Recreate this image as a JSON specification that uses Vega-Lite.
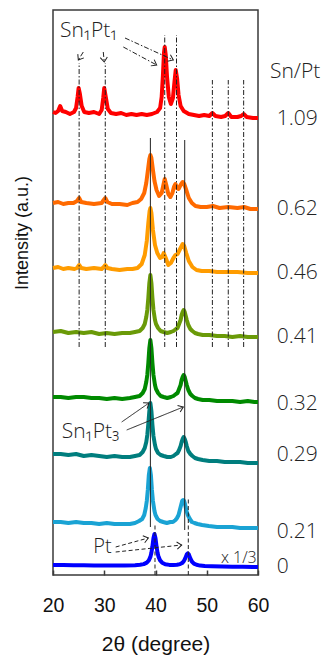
{
"$schema":"https://vega.github.io/schema/vega-lite/v6.json",
"width":205,"height":565,
"autosize":{"type":"none"},
"padding":{"left":53,"top":10,"right":67,"bottom":81},
"background":"white",
"config":{"view":{"stroke":"#3a3a3a","strokeWidth":1.5},"axis":{"labelFont":"Liberation Sans","titleFont":"Liberation Sans","grid":false,"labelColor":"#111","titleColor":"#111","titleFontWeight":"normal"}},
"datasets":{
"xrd":[
{"r":"1.09","t":20,"i":463},{"r":"1.09","t":20.5,"i":462},{"r":"1.09","t":21.0,"i":464},{"r":"1.09","t":21.4,"i":469},{"r":"1.09","t":21.8,"i":464},{"r":"1.09","t":22.5,"i":463},{"r":"1.09","t":23.3,"i":461},{"r":"1.09","t":24.1,"i":463},{"r":"1.09","t":24.5,"i":467},{"r":"1.09","t":24.8,"i":478},{"r":"1.09","t":25.0,"i":487},{"r":"1.09","t":25.25,"i":481},{"r":"1.09","t":25.6,"i":469},{"r":"1.09","t":26.1,"i":463},{"r":"1.09","t":27,"i":462},{"r":"1.09","t":28,"i":463},{"r":"1.09","t":29,"i":461},{"r":"1.09","t":29.5,"i":465},{"r":"1.09","t":29.8,"i":477},{"r":"1.09","t":30.0,"i":487},{"r":"1.09","t":30.3,"i":478},{"r":"1.09","t":30.7,"i":466},{"r":"1.09","t":31.3,"i":462},{"r":"1.09","t":32.3,"i":461},{"r":"1.09","t":33.3,"i":462},{"r":"1.09","t":34.3,"i":460},{"r":"1.09","t":35.3,"i":461},{"r":"1.09","t":36.3,"i":460},{"r":"1.09","t":37.3,"i":461},{"r":"1.09","t":38.3,"i":460},{"r":"1.09","t":39.3,"i":461},{"r":"1.09","t":40.3,"i":463},{"r":"1.09","t":40.9,"i":467},{"r":"1.09","t":41.2,"i":478},{"r":"1.09","t":41.45,"i":500},{"r":"1.09","t":41.65,"i":522},{"r":"1.09","t":41.8,"i":528},{"r":"1.09","t":42.0,"i":520},{"r":"1.09","t":42.25,"i":498},{"r":"1.09","t":42.6,"i":478},{"r":"1.09","t":43.0,"i":471},{"r":"1.09","t":43.4,"i":477},{"r":"1.09","t":43.7,"i":493},{"r":"1.09","t":43.95,"i":505},{"r":"1.09","t":44.2,"i":497},{"r":"1.09","t":44.5,"i":480},{"r":"1.09","t":44.9,"i":469},{"r":"1.09","t":45.5,"i":464},{"r":"1.09","t":46.5,"i":461},{"r":"1.09","t":47.5,"i":460},{"r":"1.09","t":48.5,"i":459},{"r":"1.09","t":49.5,"i":460},{"r":"1.09","t":50.5,"i":459},{"r":"1.09","t":51.1,"i":462},{"r":"1.09","t":51.7,"i":459},{"r":"1.09","t":52.8,"i":458},{"r":"1.09","t":53.6,"i":459},{"r":"1.09","t":54.2,"i":462},{"r":"1.09","t":54.8,"i":458},{"r":"1.09","t":56,"i":458},{"r":"1.09","t":56.7,"i":459},{"r":"1.09","t":57.2,"i":461},{"r":"1.09","t":57.8,"i":458},{"r":"1.09","t":59,"i":457},{"r":"1.09","t":60,"i":457},
{"r":"0.62","t":20,"i":372},{"r":"0.62","t":21,"i":373},{"r":"0.62","t":22,"i":371},{"r":"0.62","t":23,"i":372},{"r":"0.62","t":24,"i":372},{"r":"0.62","t":24.7,"i":374},{"r":"0.62","t":25.1,"i":377},{"r":"0.62","t":25.5,"i":373},{"r":"0.62","t":26.5,"i":372},{"r":"0.62","t":28,"i":371},{"r":"0.62","t":29.5,"i":372},{"r":"0.62","t":29.9,"i":375},{"r":"0.62","t":30.2,"i":377},{"r":"0.62","t":30.6,"i":373},{"r":"0.62","t":31.5,"i":371},{"r":"0.62","t":33,"i":371},{"r":"0.62","t":34.5,"i":370},{"r":"0.62","t":35.5,"i":372},{"r":"0.62","t":36.5,"i":373},{"r":"0.62","t":37.2,"i":376},{"r":"0.62","t":37.8,"i":382},{"r":"0.62","t":38.2,"i":392},{"r":"0.62","t":38.5,"i":404},{"r":"0.62","t":38.8,"i":416},{"r":"0.62","t":39.0,"i":420},{"r":"0.62","t":39.2,"i":417},{"r":"0.62","t":39.5,"i":405},{"r":"0.62","t":39.8,"i":394},{"r":"0.62","t":40.2,"i":385},{"r":"0.62","t":40.7,"i":379},{"r":"0.62","t":41.2,"i":382},{"r":"0.62","t":41.5,"i":389},{"r":"0.62","t":41.8,"i":396},{"r":"0.62","t":42.1,"i":390},{"r":"0.62","t":42.5,"i":381},{"r":"0.62","t":42.9,"i":378},{"r":"0.62","t":43.3,"i":382},{"r":"0.62","t":43.6,"i":388},{"r":"0.62","t":43.9,"i":391},{"r":"0.62","t":44.2,"i":387},{"r":"0.62","t":44.5,"i":386},{"r":"0.62","t":44.9,"i":390},{"r":"0.62","t":45.3,"i":393},{"r":"0.62","t":45.6,"i":391},{"r":"0.62","t":46.0,"i":385},{"r":"0.62","t":46.5,"i":377},{"r":"0.62","t":47.1,"i":372},{"r":"0.62","t":47.8,"i":369},{"r":"0.62","t":48.8,"i":368},{"r":"0.62","t":50,"i":368},{"r":"0.62","t":51.2,"i":369},{"r":"0.62","t":52.5,"i":367},{"r":"0.62","t":54.2,"i":368},{"r":"0.62","t":56,"i":367},{"r":"0.62","t":57.3,"i":368},{"r":"0.62","t":58.5,"i":366},{"r":"0.62","t":60,"i":366},
{"r":"0.46","t":20,"i":307},{"r":"0.46","t":21,"i":308},{"r":"0.46","t":22,"i":306},{"r":"0.46","t":23,"i":307},{"r":"0.46","t":24.2,"i":306},{"r":"0.46","t":24.7,"i":307},{"r":"0.46","t":25.1,"i":310},{"r":"0.46","t":25.5,"i":307},{"r":"0.46","t":26.5,"i":306},{"r":"0.46","t":28,"i":307},{"r":"0.46","t":29.5,"i":306},{"r":"0.46","t":29.9,"i":308},{"r":"0.46","t":30.2,"i":310},{"r":"0.46","t":30.6,"i":307},{"r":"0.46","t":31.5,"i":306},{"r":"0.46","t":33,"i":305},{"r":"0.46","t":34.5,"i":306},{"r":"0.46","t":35.5,"i":306},{"r":"0.46","t":36.5,"i":307},{"r":"0.46","t":37.3,"i":311},{"r":"0.46","t":37.9,"i":320},{"r":"0.46","t":38.3,"i":334},{"r":"0.46","t":38.6,"i":352},{"r":"0.46","t":38.85,"i":364},{"r":"0.46","t":39.0,"i":367},{"r":"0.46","t":39.2,"i":362},{"r":"0.46","t":39.5,"i":345},{"r":"0.46","t":39.9,"i":330},{"r":"0.46","t":40.35,"i":322},{"r":"0.46","t":40.9,"i":317},{"r":"0.46","t":41.3,"i":318},{"r":"0.46","t":41.6,"i":322},{"r":"0.46","t":42.0,"i":317},{"r":"0.46","t":42.5,"i":310},{"r":"0.46","t":43.0,"i":312},{"r":"0.46","t":43.5,"i":317},{"r":"0.46","t":43.9,"i":320},{"r":"0.46","t":44.3,"i":321},{"r":"0.46","t":44.8,"i":326},{"r":"0.46","t":45.3,"i":331},{"r":"0.46","t":45.6,"i":329},{"r":"0.46","t":46.0,"i":322},{"r":"0.46","t":46.5,"i":314},{"r":"0.46","t":47.2,"i":308},{"r":"0.46","t":48,"i":305},{"r":"0.46","t":49,"i":304},{"r":"0.46","t":50.5,"i":304},{"r":"0.46","t":52,"i":303},{"r":"0.46","t":54,"i":303},{"r":"0.46","t":56,"i":303},{"r":"0.46","t":58,"i":302},{"r":"0.46","t":60,"i":302},
{"r":"0.41","t":20,"i":243},{"r":"0.41","t":21.5,"i":244},{"r":"0.41","t":23,"i":242},{"r":"0.41","t":24.5,"i":243},{"r":"0.41","t":26,"i":242},{"r":"0.41","t":27.5,"i":243},{"r":"0.41","t":29,"i":241},{"r":"0.41","t":30.5,"i":242},{"r":"0.41","t":32,"i":241},{"r":"0.41","t":33.5,"i":242},{"r":"0.41","t":35,"i":242},{"r":"0.41","t":36,"i":243},{"r":"0.41","t":36.9,"i":244},{"r":"0.41","t":37.5,"i":247},{"r":"0.41","t":37.9,"i":251},{"r":"0.41","t":38.2,"i":258},{"r":"0.41","t":38.4,"i":265},{"r":"0.41","t":38.6,"i":277},{"r":"0.41","t":38.8,"i":292},{"r":"0.41","t":39.0,"i":300},{"r":"0.41","t":39.2,"i":292},{"r":"0.41","t":39.4,"i":277},{"r":"0.41","t":39.6,"i":265},{"r":"0.41","t":39.9,"i":255},{"r":"0.41","t":40.1,"i":251},{"r":"0.41","t":40.5,"i":247},{"r":"0.41","t":41.0,"i":244},{"r":"0.41","t":41.6,"i":243},{"r":"0.41","t":42.3,"i":242},{"r":"0.41","t":43.0,"i":243},{"r":"0.41","t":43.5,"i":244},{"r":"0.41","t":44.0,"i":246},{"r":"0.41","t":44.3,"i":247},{"r":"0.41","t":44.6,"i":251},{"r":"0.41","t":44.9,"i":255},{"r":"0.41","t":45.1,"i":260},{"r":"0.41","t":45.3,"i":263},{"r":"0.41","t":45.5,"i":265},{"r":"0.41","t":45.7,"i":263},{"r":"0.41","t":45.9,"i":259},{"r":"0.41","t":46.1,"i":255},{"r":"0.41","t":46.4,"i":250},{"r":"0.41","t":46.8,"i":246},{"r":"0.41","t":47.2,"i":244},{"r":"0.41","t":47.7,"i":242},{"r":"0.41","t":48.3,"i":241},{"r":"0.41","t":49.2,"i":240},{"r":"0.41","t":50.5,"i":240},{"r":"0.41","t":52,"i":239},{"r":"0.41","t":53.5,"i":239},{"r":"0.41","t":55,"i":238},{"r":"0.41","t":56.5,"i":239},{"r":"0.41","t":58,"i":238},{"r":"0.41","t":59.3,"i":238},{"r":"0.41","t":60,"i":238},
{"r":"0.32","t":20,"i":178},{"r":"0.32","t":21.5,"i":178},{"r":"0.32","t":23,"i":177},{"r":"0.32","t":24.5,"i":178},{"r":"0.32","t":26,"i":178},{"r":"0.32","t":27.5,"i":177},{"r":"0.32","t":29,"i":177},{"r":"0.32","t":30.5,"i":176},{"r":"0.32","t":32,"i":177},{"r":"0.32","t":33.5,"i":176},{"r":"0.32","t":35,"i":177},{"r":"0.32","t":36,"i":178},{"r":"0.32","t":36.9,"i":179},{"r":"0.32","t":37.5,"i":182},{"r":"0.32","t":37.9,"i":186},{"r":"0.32","t":38.2,"i":193},{"r":"0.32","t":38.4,"i":200},{"r":"0.32","t":38.6,"i":212},{"r":"0.32","t":38.8,"i":227},{"r":"0.32","t":39.0,"i":235},{"r":"0.32","t":39.2,"i":227},{"r":"0.32","t":39.4,"i":212},{"r":"0.32","t":39.6,"i":200},{"r":"0.32","t":39.9,"i":190},{"r":"0.32","t":40.1,"i":186},{"r":"0.32","t":40.5,"i":182},{"r":"0.32","t":41.0,"i":179},{"r":"0.32","t":41.6,"i":178},{"r":"0.32","t":42.3,"i":177},{"r":"0.32","t":43.0,"i":178},{"r":"0.32","t":43.5,"i":179},{"r":"0.32","t":44.0,"i":181},{"r":"0.32","t":44.3,"i":182},{"r":"0.32","t":44.6,"i":186},{"r":"0.32","t":44.9,"i":190},{"r":"0.32","t":45.1,"i":195},{"r":"0.32","t":45.3,"i":198},{"r":"0.32","t":45.5,"i":200},{"r":"0.32","t":45.7,"i":198},{"r":"0.32","t":45.9,"i":194},{"r":"0.32","t":46.1,"i":190},{"r":"0.32","t":46.4,"i":185},{"r":"0.32","t":46.8,"i":181},{"r":"0.32","t":47.2,"i":179},{"r":"0.32","t":47.7,"i":177},{"r":"0.32","t":48.3,"i":176},{"r":"0.32","t":49.2,"i":175},{"r":"0.32","t":50.5,"i":175},{"r":"0.32","t":52,"i":174},{"r":"0.32","t":53.5,"i":174},{"r":"0.32","t":55,"i":174},{"r":"0.32","t":56.5,"i":173},{"r":"0.32","t":58,"i":174},{"r":"0.32","t":59.3,"i":173},{"r":"0.32","t":60,"i":173},
{"r":"0.29","t":20,"i":121},{"r":"0.29","t":21.5,"i":121},{"r":"0.29","t":23,"i":120},{"r":"0.29","t":24.5,"i":121},{"r":"0.29","t":26,"i":119},{"r":"0.29","t":27.5,"i":120},{"r":"0.29","t":29,"i":119},{"r":"0.29","t":30.5,"i":118},{"r":"0.29","t":32,"i":119},{"r":"0.29","t":33.5,"i":118},{"r":"0.29","t":35,"i":118},{"r":"0.29","t":36,"i":119},{"r":"0.29","t":36.9,"i":120},{"r":"0.29","t":37.5,"i":123},{"r":"0.29","t":37.9,"i":127},{"r":"0.29","t":38.2,"i":133},{"r":"0.29","t":38.4,"i":140},{"r":"0.29","t":38.6,"i":151},{"r":"0.29","t":38.8,"i":164},{"r":"0.29","t":39.0,"i":172},{"r":"0.29","t":39.2,"i":164},{"r":"0.29","t":39.4,"i":150},{"r":"0.29","t":39.6,"i":139},{"r":"0.29","t":39.9,"i":130},{"r":"0.29","t":40.1,"i":126},{"r":"0.29","t":40.5,"i":122},{"r":"0.29","t":41.0,"i":120},{"r":"0.29","t":41.6,"i":119},{"r":"0.29","t":42.3,"i":118},{"r":"0.29","t":43.0,"i":118},{"r":"0.29","t":43.5,"i":119},{"r":"0.29","t":44.0,"i":121},{"r":"0.29","t":44.3,"i":122},{"r":"0.29","t":44.6,"i":125},{"r":"0.29","t":44.9,"i":129},{"r":"0.29","t":45.1,"i":133},{"r":"0.29","t":45.3,"i":136},{"r":"0.29","t":45.5,"i":138},{"r":"0.29","t":45.7,"i":136},{"r":"0.29","t":45.9,"i":133},{"r":"0.29","t":46.1,"i":129},{"r":"0.29","t":46.4,"i":124},{"r":"0.29","t":46.8,"i":121},{"r":"0.29","t":47.2,"i":119},{"r":"0.29","t":47.7,"i":117},{"r":"0.29","t":48.3,"i":116},{"r":"0.29","t":49.2,"i":115},{"r":"0.29","t":50.5,"i":114},{"r":"0.29","t":52,"i":114},{"r":"0.29","t":53.5,"i":113},{"r":"0.29","t":55,"i":113},{"r":"0.29","t":56.5,"i":113},{"r":"0.29","t":58,"i":112},{"r":"0.29","t":59.3,"i":112},{"r":"0.29","t":60,"i":112},
{"r":"0.21","t":20,"i":53},{"r":"0.21","t":21.5,"i":53},{"r":"0.21","t":23,"i":52},{"r":"0.21","t":24.5,"i":53},{"r":"0.21","t":26,"i":52},{"r":"0.21","t":27.5,"i":52},{"r":"0.21","t":29,"i":51},{"r":"0.21","t":30.5,"i":52},{"r":"0.21","t":32,"i":51},{"r":"0.21","t":33.5,"i":51},{"r":"0.21","t":35,"i":51},{"r":"0.21","t":36,"i":52},{"r":"0.21","t":36.8,"i":54},{"r":"0.21","t":37.4,"i":56},{"r":"0.21","t":37.8,"i":60},{"r":"0.21","t":38.1,"i":67},{"r":"0.21","t":38.3,"i":74},{"r":"0.21","t":38.5,"i":85},{"r":"0.21","t":38.7,"i":100},{"r":"0.21","t":38.9,"i":107},{"r":"0.21","t":39.1,"i":100},{"r":"0.21","t":39.3,"i":85},{"r":"0.21","t":39.5,"i":74},{"r":"0.21","t":39.8,"i":64},{"r":"0.21","t":40.0,"i":60},{"r":"0.21","t":40.4,"i":56},{"r":"0.21","t":40.9,"i":54},{"r":"0.21","t":41.5,"i":53},{"r":"0.21","t":42.2,"i":52},{"r":"0.21","t":42.9,"i":53},{"r":"0.21","t":43.4,"i":53},{"r":"0.21","t":43.9,"i":55},{"r":"0.21","t":44.2,"i":57},{"r":"0.21","t":44.5,"i":60},{"r":"0.21","t":44.8,"i":66},{"r":"0.21","t":45.0,"i":70},{"r":"0.21","t":45.2,"i":74},{"r":"0.21","t":45.4,"i":75},{"r":"0.21","t":45.6,"i":74},{"r":"0.21","t":45.8,"i":70},{"r":"0.21","t":46.0,"i":65},{"r":"0.21","t":46.3,"i":60},{"r":"0.21","t":46.7,"i":56},{"r":"0.21","t":47.1,"i":53},{"r":"0.21","t":47.6,"i":52},{"r":"0.21","t":48.2,"i":51},{"r":"0.21","t":49.1,"i":50},{"r":"0.21","t":50.4,"i":49},{"r":"0.21","t":52,"i":48},{"r":"0.21","t":53.5,"i":48},{"r":"0.21","t":55,"i":48},{"r":"0.21","t":56.5,"i":47},{"r":"0.21","t":58,"i":47},{"r":"0.21","t":59.3,"i":47},{"r":"0.21","t":60,"i":47},
{"r":"0","t":20,"i":10},{"r":"0","t":22,"i":9.9},{"r":"0","t":24,"i":9.8},{"r":"0","t":26,"i":9.7},{"r":"0","t":28,"i":9.6},{"r":"0","t":30,"i":9.5},{"r":"0","t":32,"i":9.4},{"r":"0","t":34,"i":9.4},{"r":"0","t":36,"i":9.8},{"r":"0","t":37,"i":10.2},{"r":"0","t":37.7,"i":10.9},{"r":"0","t":38.3,"i":12.4},{"r":"0","t":38.7,"i":14.6},{"r":"0","t":39.0,"i":18.1},{"r":"0","t":39.2,"i":22.2},{"r":"0","t":39.4,"i":28.6},{"r":"0","t":39.6,"i":36.7},{"r":"0","t":39.8,"i":41},{"r":"0","t":40.0,"i":36.7},{"r":"0","t":40.2,"i":28.6},{"r":"0","t":40.4,"i":22.2},{"r":"0","t":40.6,"i":18.1},{"r":"0","t":40.9,"i":14.6},{"r":"0","t":41.3,"i":12.3},{"r":"0","t":41.9,"i":10.8},{"r":"0","t":42.7,"i":10.1},{"r":"0","t":43.5,"i":10},{"r":"0","t":44.2,"i":10.2},{"r":"0","t":44.8,"i":10.9},{"r":"0","t":45.2,"i":12},{"r":"0","t":45.5,"i":13.6},{"r":"0","t":45.8,"i":16.6},{"r":"0","t":46.1,"i":20.6},{"r":"0","t":46.3,"i":21.7},{"r":"0","t":46.5,"i":20.6},{"r":"0","t":46.8,"i":16.5},{"r":"0","t":47.1,"i":13.5},{"r":"0","t":47.5,"i":11.4},{"r":"0","t":48,"i":10.2},{"r":"0","t":48.7,"i":9.4},{"r":"0","t":49.6,"i":8.9},{"r":"0","t":51,"i":8.7},{"r":"0","t":53,"i":8.5},{"r":"0","t":55,"i":8.3},{"r":"0","t":57,"i":8.2},{"r":"0","t":59,"i":8.1},{"r":"0","t":60,"i":8}
],
"refs":[
{"phase":"Sn1Pt1","t":25.1,"i":228,"i2":512},{"phase":"Sn1Pt1","t":30.2,"i":228,"i2":512},{"phase":"Sn1Pt1","t":41.8,"i":228,"i2":540},{"phase":"Sn1Pt1","t":44.1,"i":228,"i2":540},{"phase":"Sn1Pt1","t":51.1,"i":228,"i2":495},{"phase":"Sn1Pt1","t":54.2,"i":228,"i2":495},{"phase":"Sn1Pt1","t":57.2,"i":228,"i2":495},
{"phase":"Sn1Pt3","t":39.0,"i":48,"i2":437},{"phase":"Sn1Pt3","t":45.7,"i":45,"i2":435},
{"phase":"Pt","t":39.9,"i":0,"i2":52},{"phase":"Pt","t":46.4,"i":0,"i2":78}
],
"arrows":[
{"phase":"Sn1Pt1","t":25.91,"i":523,"t2":24.94,"i2":515},{"phase":"Sn1Pt1","t":29.81,"i":523,"t2":30.0,"i2":513},{"phase":"Sn1Pt1","t":34.05,"i":537,"t2":43.47,"i2":515},{"phase":"Sn1Pt1","t":33.72,"i":528,"t2":40.23,"i2":510},
{"phase":"Sn1Pt3","t":33.4,"i":153,"t2":38.73,"i2":172},{"phase":"Sn1Pt3","t":34.38,"i":145,"t2":45.42,"i2":168},
{"phase":"Pt","t":32.23,"i":28,"t2":38.6,"i2":37},{"phase":"Pt","t":32.23,"i":23,"t2":45.11,"i2":30}
]
},
"layer":[
{"data":{"name":"xrd"},"mark":{"type":"line","strokeWidth":4,"strokeJoin":"round"},
 "encoding":{
  "x":{"field":"t","type":"quantitative","scale":{"domain":[20,60],"nice":false,"zero":false},
   "axis":{"title":"2θ (degree)","values":[20,25,30,35,40,45,50,55,60],"labelExpr":"datum.value % 10 == 0 ? datum.label : ''","domain":false,"tickSize":-5,"tickWidth":1.5,"tickColor":"#3a3a3a","labelFontSize":19.5,"labelPadding":26,"titleFontSize":21,"titleY":75,"titleBaseline":"alphabetic","labelFlush":false}},
  "y":{"field":"i","type":"quantitative","scale":{"domain":[0,565],"nice":false,"zero":false},
   "axis":{"title":"Intensity (a.u.)","labels":false,"ticks":false,"domain":false,"titleFontSize":18,"titleX":-26,"titleY":222.5,"titleAlign":"center","titleBaseline":"alphabetic","titleAngle":270}},
  "color":{"field":"r","type":"nominal","legend":null,"scale":{"domain":["1.09","0.62","0.46","0.41","0.32","0.29","0.21","0"],"range":["#ff0000","#ff6a00","#ff9c00","#6a9a08","#008a00","#007e7e","#1aa3d4","#0000ff"]}},
  "detail":{"field":"r"}
 }},
{"data":{"name":"refs"},"mark":{"type":"rule","strokeWidth":1,"color":"#222"},
 "encoding":{"x":{"field":"t","type":"quantitative"},"y":{"field":"i","type":"quantitative"},"y2":{"field":"i2"},
  "strokeDash":{"field":"phase","type":"nominal","legend":null,"scale":{"domain":["Sn1Pt1","Sn1Pt3","Pt"],"range":[[5,2,1.5,2],[1,0],[4,2.5]]}}}},
{"data":{"name":"arrows"},"mark":{"type":"rule","strokeWidth":1,"color":"#222"},
 "encoding":{"x":{"field":"t","type":"quantitative"},"y":{"field":"i","type":"quantitative"},"x2":{"field":"t2"},"y2":{"field":"i2"},
  "strokeDash":{"field":"phase","type":"nominal","legend":null}}},
{"data":{"name":"arrows"},"transform":[{"calculate":"atan2(datum.i - datum.i2, (datum.t2 - datum.t) * 5.125) * 180 / PI","as":"ang"}],
 "mark":{"type":"point","shape":"M-1,-0.75L0,0L-1,0.75","filled":false,"size":90,"strokeWidth":1,"color":"#222","opacity":1},
 "encoding":{"x":{"field":"t2","type":"quantitative"},"y":{"field":"i2","type":"quantitative"},"angle":{"field":"ang","type":"quantitative","scale":null}}},
{"data":{"values":[{"txt":"Sn₁Pt₁","t":21.37,"i":538},{"txt":"Sn₁Pt₃","t":21.7,"i":137},{"txt":"Sn/Pt","t":62.34,"i":497}]},
 "mark":{"type":"text","align":"left","baseline":"alphabetic","fontSize":21,"font":"Open Sans","fontWeight":300,"color":"#222"},
 "encoding":{"x":{"field":"t","type":"quantitative"},"y":{"field":"i","type":"quantitative"},"text":{"field":"txt"}}},
{"data":{"values":[{"txt":"Pt","t":27.86,"i":22}]},
 "mark":{"type":"text","align":"left","baseline":"alphabetic","fontSize":20,"font":"Open Sans","fontWeight":300,"color":"#222"},
 "encoding":{"x":{"field":"t","type":"quantitative"},"y":{"field":"i","type":"quantitative"},"text":{"field":"txt"}}},
{"data":{"values":[{"txt":"x 1/3","t":59.75,"i":12}]},
 "mark":{"type":"text","align":"right","baseline":"alphabetic","fontSize":16,"font":"Open Sans","fontWeight":300,"color":"#222"},
 "encoding":{"x":{"field":"t","type":"quantitative"},"y":{"field":"i","type":"quantitative"},"text":{"field":"txt"}}},
{"data":{"values":[{"r":"1.09","i":456},{"r":"0.62","i":366},{"r":"0.46","i":302},{"r":"0.41","i":238},{"r":"0.32","i":171},{"r":"0.29","i":120},{"r":"0.21","i":43},{"r":"0","i":8}]},
 "mark":{"type":"text","align":"left","baseline":"middle","fontSize":21,"font":"Open Sans","fontWeight":300,"color":"#222"},
 "encoding":{"x":{"datum":63.65,"type":"quantitative"},"y":{"field":"i","type":"quantitative"},"text":{"field":"r"}}}
]
}
